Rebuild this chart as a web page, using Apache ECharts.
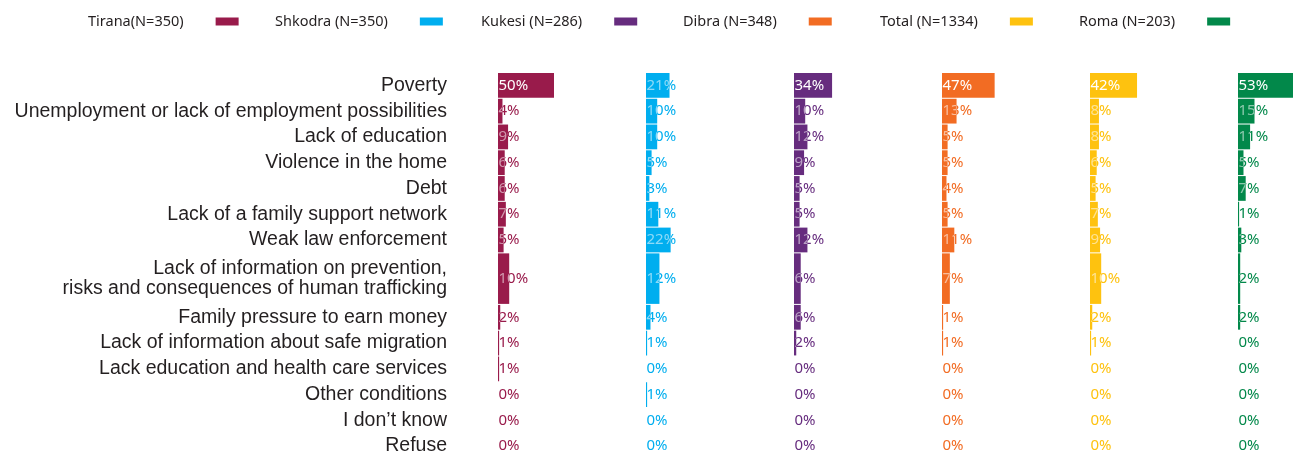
<!DOCTYPE html>
<html>
<head>
<meta charset="utf-8">
<script src="https://cdn.jsdelivr.net/npm/echarts@6/dist/echarts.min.js"></script>
<style>
  html, body { margin: 0; padding: 0; background: #fff; }
  #chart { width: 1293px; height: 459px; }
</style>
</head>
<body>
<div id="chart"></div>
<script>
const categories = [
  "Poverty",
  "Unemployment or lack of employment possibilities",
  "Lack of education",
  "Violence in the home",
  "Debt",
  "Lack of a family support network",
  "Weak law enforcement",
  "Lack of information on prevention,\nrisks and consequences of human trafficking",
  "Family pressure to earn money",
  "Lack of information about safe migration",
  "Lack education and health care services",
  "Other conditions",
  "I don\u2019t know",
  "Refuse",
];

const regions = [
  "Tirana(N=350)",
  "Shkodra (N=350)",
  "Kukesi (N=286)",
  "Dibra (N=348)",
  "Total (N=1334)",
  "Roma (N=203)",
];

const tirana = [50, 4, 9, 6, 6, 7, 5, 10, 2, 1, 1, 0, 0, 0];
const shkodra = [21, 10, 10, 5, 3, 11, 22, 12, 4, 1, 0, 1, 0, 0];
const kukesi = [34, 10, 12, 9, 5, 5, 12, 6, 6, 2, 0, 0, 0, 0];
const dibra = [47, 13, 5, 5, 4, 5, 11, 7, 1, 1, 0, 0, 0, 0];
const total = [42, 8, 8, 6, 5, 7, 9, 10, 2, 1, 0, 0, 0, 0];
const roma = [53, 15, 11, 5, 7, 1, 3, 2, 2, 0, 0, 0, 0, 0];

const values = [tirana, shkodra, kukesi, dibra, total, roma];
const colors = ["#991b4b", "#00aeef", "#662c7e", "#f26c23", "#fec20f", "#02884a"];
const legendLeft = [83, 270, 476, 678, 875, 1074];

// two-line labels take a double row
const spans = categories.map((c) => (c.indexOf("\n") >= 0 ? 2 : 1));
const rowStart = [];
spans.reduce((acc, s, i) => {
  rowStart[i] = acc;
  return acc + s;
}, 0);
const rowsTotal = spans.reduce((a, b) => a + b, 0);

const pctFont = '15px "Noto Sans", sans-serif';

// 56px per 50 points, panels every 148px
const grids = regions.map((r, i) => ({
  left: 498 + i * 148,
  top: 72.5,
  width: 56,
  height: 390,
}));

const xAxes = regions.map((r, i) => ({
  gridIndex: i,
  type: "value",
  min: 0,
  max: 50,
  show: false,
}));

const yAxes = regions.map((r, i) => ({
  gridIndex: i,
  type: "value",
  min: 0,
  max: rowsTotal,
  inverse: true,
  show: false,
}));

const barSeries = regions.map((name, i) => ({
  name: name,
  type: "custom",
  xAxisIndex: i,
  yAxisIndex: i,
  clip: false,
  itemStyle: { color: colors[i] },
  encode: { x: 0, y: 1 },
  data: values[i].map((v, k) => [v, rowStart[k], spans[k]]),
  renderItem: function (params, api) {
    const v = api.value(0);
    const y0 = api.value(1);
    const span = api.value(2);
    const p0 = api.coord([0, y0]);
    const p1 = api.coord([v, y0 + span]);
    const rect = {
      x: p0[0],
      y: p0[1] + 0.5,
      width: p1[0] - p0[0],
      height: p1[1] - p0[1] - 1,
    };
    const cy = (p0[1] + p1[1]) / 2;
    const label = v + "%";
    return {
      type: "group",
      children: [
        { type: "rect", shape: rect, style: { fill: colors[i] } },
        {
          type: "text",
          x: p0[0] + 0.5,
          y: cy,
          style: { text: label, font: pctFont, fill: colors[i], verticalAlign: "middle" },
        },
        {
          // the part of the label over the bar shows light
          type: "text",
          x: p0[0] + 0.5,
          y: cy,
          clipPath: { type: "rect", shape: { x: -0.5, y: rect.y - cy, width: rect.width, height: rect.height } },
          style: {
            text: label,
            font: pctFont,
            fill: v >= 25 ? "#ffffff" : "rgba(255,255,255,0.55)",
            verticalAlign: "middle",
          },
        },
      ],
    };
  },
}));

const labelSeries = {
  type: "custom",
  xAxisIndex: 0,
  yAxisIndex: 0,
  clip: false,
  silent: true,
  encode: { x: 0, y: 1 },
  data: categories.map((c, k) => [0, rowStart[k], spans[k], k]),
  renderItem: function (params, api) {
    const y0 = api.value(1);
    const span = api.value(2);
    const p0 = api.coord([0, y0]);
    const p1 = api.coord([0, y0 + span]);
    return {
      type: "text",
      x: p0[0] - 51,
      y: (p0[1] + p1[1]) / 2,
      style: {
        text: categories[api.value(3)],
        font: '19.5px "Liberation Sans", Arial, sans-serif',
        fill: "#231f20",
        align: "right",
        verticalAlign: "middle",
        lineHeight: 20,
      },
    };
  },
};

const legends = regions.map((name, i) => ({
  data: [name],
  left: legendLeft[i],
  top: 9,
  align: "right",
  icon: "rect",
  itemWidth: 23,
  itemHeight: 8,
  selectedMode: false,
  textStyle: {
    color: "#231f20",
    fontSize: 14.5,
    fontFamily: '"Noto Sans", sans-serif',
    padding: [0, 27, 0, 0],
  },
}));

const chart = echarts.init(document.getElementById("chart"));
chart.setOption({
  animation: false,
  legend: legends,
  grid: grids,
  xAxis: xAxes,
  yAxis: yAxes,
  series: [labelSeries].concat(barSeries),
});
</script>
</body>
</html>
